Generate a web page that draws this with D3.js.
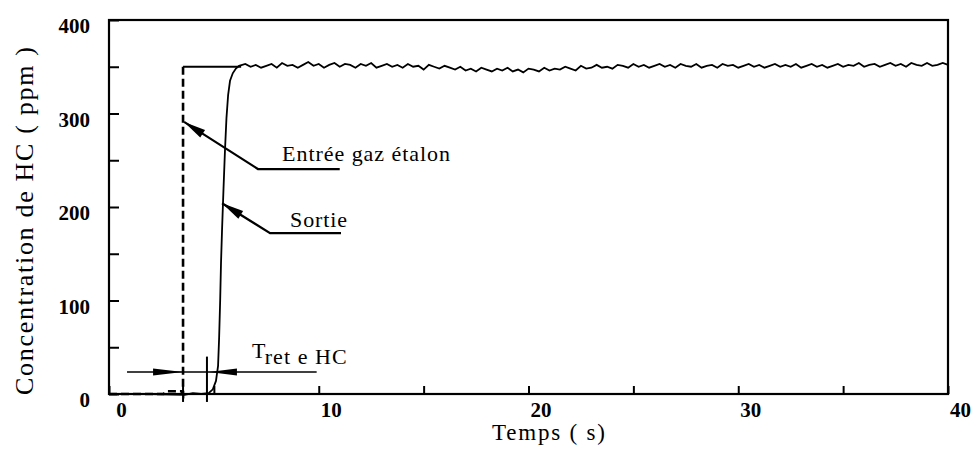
<!DOCTYPE html>
<html><head><meta charset="utf-8">
<script src="https://cdn.jsdelivr.net/npm/d3@7"></script>
<style>body{margin:0;background:#fff} svg{display:block}</style>
</head><body>
<svg id="c" width="980" height="452"></svg>
<script>
// ---- data ----
const xTickValues = [0, 5, 10, 15, 20, 25, 30, 35, 40];
const xTickLabels = ["0", "", "10", "", "20", "", "30", "", "40"];
const yTickValues = [0, 50, 100, 150, 200, 250, 300, 350, 400];
const yTickLabels = ["0", "", "100", "", "200", "", "300", "", "400"];

// Entrée gaz étalon (step input)
const entreeT = [0, 2.6, 2.75, 3.45, 3.53, 3.53];
const entreeV = [0, 0, 3, 3, 0, 350];
const entreeTopT = [3.53, 6.3];
const entreeTopV = [350, 350];

// Sortie (measured response)
const sortieRiseT = [0, 2, 3.6, 4.0, 4.4, 4.75, 4.95, 5.1, 5.2, 5.25, 5.3, 5.34, 5.39, 5.46, 5.53, 5.6, 5.68, 5.77, 5.9, 6.05, 6.2];
const sortieRiseV = [0, 0, -1, 1, 0, 1, 5, 14, 30, 60, 100, 140, 176, 220, 261, 295, 320, 335, 343, 348, 351];
const sortiePlateauT = [6.5,6.75,7,7.25,7.5,7.75,8,8.25,8.5,8.75,9,9.25,9.5,9.75,10,10.25,10.5,10.75,11,11.25,11.5,11.75,12,12.25,12.5,12.75,13,13.25,13.5,13.75,14,14.25,14.5,14.75,15,15.25,15.5,15.75,16,16.25,16.5,16.75,17,17.25,17.5,17.75,18,18.25,18.5,18.75,19,19.25,19.5,19.75,20,20.25,20.5,20.75,21,21.25,21.5,21.75,22,22.25,22.5,22.75,23,23.25,23.5,23.75,24,24.25,24.5,24.75,25,25.25,25.5,25.75,26,26.25,26.5,26.75,27,27.25,27.5,27.75,28,28.25,28.5,28.75,29,29.25,29.5,29.75,30,30.25,30.5,30.75,31,31.25,31.5,31.75,32,32.25,32.5,32.75,33,33.25,33.5,33.75,34,34.25,34.5,34.75,35,35.25,35.5,35.75,36,36.25,36.5,36.75,37,37.25,37.5,37.75,38,38.25,38.5,38.75,39,39.25,39.5,39.75,40];
const sortiePlateauV = [
 353,350,352,349,351,353,349,354,351,352,
 349,352,355,351,353,349,352,354,350,353,
 352,349,353,351,354,349,351,353,350,352,
 349,353,350,351,347,352,350,348,351,349,
 347,350,346,348,345,349,347,345,348,346,
 349,345,347,344,348,347,345,349,346,348,
 347,350,348,346,351,348,349,352,349,350,
 348,352,351,349,353,350,352,349,351,353,
 350,352,349,353,351,350,353,349,351,352,
 349,353,351,352,349,351,353,350,352,349,
 351,353,350,352,350,353,349,351,353,350,
 352,349,351,353,350,352,351,354,350,352,
 353,350,352,354,351,353,350,354,352,351,
 354,351,352,354,352];

// Annotations (data units)
const retMarkersT = [3.53, 4.67];
const retMarkersTop = [10, 40];
const retMarkerBottom = -8.5;
const dimLineT = [0.86, 9.9];
const dimLineV = 23.5;
const entreeLeaderT = [3.58, 7.1, 11.0];
const entreeLeaderV = [291, 240.6, 240.6];
const sortieLeaderT = [5.39, 7.68, 11.06];
const sortieLeaderV = [204, 172, 172];
const labelTexts = ["Entrée gaz étalon", "Sortie"];
const labelT = [8.25, 8.63];
const labelV = [249, 178.6];
const tretT = 6.82, tretV = 38.5;

// ---- drawing ----
const svg = d3.select("#c");
const x = d3.scaleLinear().domain([0, 40]).range([109, 948]);
const y = d3.scaleLinear().domain([0, 400]).range([394, 20]);
const serif = "'Liberation Serif','Times New Roman',serif";

// frame
svg.append("rect")
  .attr("x", x(0)).attr("y", y(400))
  .attr("width", x(40) - x(0)).attr("height", y(0) - y(400))
  .attr("fill", "none").attr("stroke", "#000").attr("stroke-width", 2.2);

// x axis
const gx = svg.append("g").attr("transform", `translate(0,${y(0)})`)
  .call(d3.axisBottom(x).tickValues(xTickValues).tickSizeInner(-8).tickSizeOuter(0)
    .tickFormat((d, i) => xTickLabels[i]));
gx.select(".domain").remove();
gx.selectAll(".tick line").attr("stroke", "#000").attr("stroke-width", 2);
gx.selectAll(".tick text").attr("fill", "#000").attr("font-family", serif)
  .attr("font-size", 21).attr("font-weight", "bold").attr("dy", null)
  .attr("y", 23).attr("dx", 12);

// y axis
const gy = svg.append("g").attr("transform", `translate(${x(0)},0)`)
  .call(d3.axisLeft(y).tickValues(yTickValues).tickSizeInner(-10).tickSizeOuter(0)
    .tickFormat((d, i) => yTickLabels[i]));
gy.select(".domain").remove();
gy.selectAll(".tick line").attr("stroke", "#000").attr("stroke-width", 2);
gy.selectAll(".tick text").attr("fill", "#000").attr("font-family", serif)
  .attr("font-size", 21).attr("font-weight", "bold")
  .attr("x", -19).attr("dy", "0.6em");

// axis titles
svg.append("text").attr("x", (x(0) + x(40)) / 2 + 20).attr("y", 440)
  .attr("text-anchor", "middle").attr("font-family", serif).attr("font-size", 23)
  .attr("textLength", 113).attr("lengthAdjust", "spacing")
  .text("Temps ( s)");
svg.append("text").attr("transform", `translate(33,${221}) rotate(-90)`)
  .attr("text-anchor", "middle").attr("font-family", serif).attr("font-size", 26)
  .attr("textLength", 348).attr("lengthAdjust", "spacing")
  .text("Concentration de HC ( ppm )");

const line = d3.line().x(d => x(d[0])).y(d => y(d[1]));

// Sortie
const sortie = sortieRiseT.map((t, i) => [t, sortieRiseV[i]])
  .concat(sortiePlateauT.map((t, i) => [t, sortiePlateauV[i]]));
svg.append("path").datum(sortie).attr("d", line)
  .attr("fill", "none").attr("stroke", "#000").attr("stroke-width", 1.8)
  .attr("stroke-linejoin", "miter");

// Entrée
svg.append("path").datum(entreeT.map((t, i) => [t, entreeV[i]])).attr("d", line)
  .attr("fill", "none").attr("stroke", "#000").attr("stroke-width", 2.6)
  .attr("stroke-dasharray", "8,4");
svg.append("path").datum(entreeTopT.map((t, i) => [t, entreeTopV[i]])).attr("d", line)
  .attr("fill", "none").attr("stroke", "#000").attr("stroke-width", 2);

// arrowhead helper (tip at p0, pointing away from p1)
function arrowHead(p0, p1, len, half) {
  const dx = p1[0] - p0[0], dy = p1[1] - p0[1];
  const L = Math.hypot(dx, dy), ux = dx / L, uy = dy / L;
  const bx = p0[0] + ux * len, by = p0[1] + uy * len;
  const pts = [[p0[0], p0[1]], [bx - uy * half, by + ux * half], [bx + uy * half, by - ux * half]];
  svg.append("path").attr("d", "M" + pts.map(p => p.join(",")).join("L") + "Z").attr("fill", "#000");
}

// Leaders
[[entreeLeaderT, entreeLeaderV], [sortieLeaderT, sortieLeaderV]].forEach(([T, V]) => {
  const pts = T.map((t, i) => [t, V[i]]);
  svg.append("path").datum(pts).attr("d", line)
    .attr("fill", "none").attr("stroke", "#000").attr("stroke-width", 2.2);
  arrowHead([x(pts[0][0]), y(pts[0][1])], [x(pts[1][0]), y(pts[1][1])], 22, 4.5);
});

labelTexts.forEach((s, i) => {
  svg.append("text").attr("x", x(labelT[i])).attr("y", y(labelV[i]))
    .attr("font-family", serif).attr("font-size", 22)
    .attr("textLength", i === 0 ? 168 : 57).attr("lengthAdjust", "spacing")
    .text(s);
});

// retention time markers
retMarkersT.forEach((t, i) => {
  svg.append("line").attr("x1", x(t)).attr("x2", x(t))
    .attr("y1", y(retMarkersTop[i])).attr("y2", y(retMarkerBottom))
    .attr("stroke", "#000").attr("stroke-width", 2);
});
svg.append("line").attr("x1", x(dimLineT[0])).attr("x2", x(dimLineT[1]))
  .attr("y1", y(dimLineV)).attr("y2", y(dimLineV))
  .attr("stroke", "#000").attr("stroke-width", 1.6);
arrowHead([x(retMarkersT[0]), y(dimLineV)], [x(dimLineT[0]), y(dimLineV)], 30, 3.5);
arrowHead([x(retMarkersT[1]) + 2, y(dimLineV)], [x(dimLineT[1]), y(dimLineV)], 28, 3.5);

const tr = svg.append("text").attr("x", x(tretT)).attr("y", y(tretV))
  .attr("font-family", serif).attr("font-size", 22);
tr.append("tspan").text("T");
tr.append("tspan").attr("dy", 6).attr("textLength", 82).attr("lengthAdjust", "spacing").text("ret e HC");
</script>
</body></html>
